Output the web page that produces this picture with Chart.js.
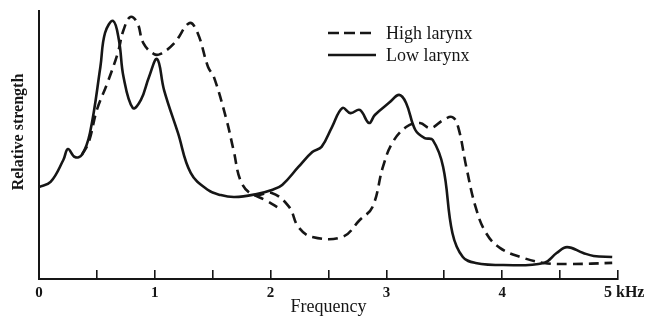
<!DOCTYPE html>
<html>
<head>
<meta charset="utf-8">
<script src="https://cdn.jsdelivr.net/npm/chart.js@4.4.0/dist/chart.umd.min.js"></script>
<style>
  html, body { margin: 0; padding: 0; background: #fff; }
  #wrap { width: 653px; height: 320px; }
</style>
</head>
<body>
<div id="wrap"><canvas id="grafica" width="653" height="320"></canvas></div>
<script>
// frequency in kHz, strength on a 0-100 relative scale
var lowFreq = [0, 0.1, 0.21, 0.25, 0.31, 0.37, 0.44, 0.53, 0.57, 0.64, 0.69, 0.73, 0.81, 0.88, 0.95, 1.02,
  1.08, 1.2, 1.31, 1.46, 1.57, 1.69, 1.88, 2.01, 2.1, 2.24, 2.36, 2.44, 2.53, 2.62, 2.69, 2.77, 2.85,
  2.9, 3.03, 3.11, 3.17, 3.25, 3.33, 3.4, 3.49, 3.57, 3.66, 3.77, 4.01, 4.36, 4.47, 4.56, 4.7, 4.79, 4.95];
var lowStrength = [34.3, 36.2, 44.4, 48.5, 45.5, 46.3, 54.5, 79.1, 91.8, 96.3, 89.2, 75.4, 63.8, 66.8, 75.4, 82.1,
  70.5, 54.5, 39.6, 33.2, 31.3, 30.6, 31.7, 33.2, 35.1, 41.8, 47.4, 49.3, 56.7, 63.8, 61.9, 63.1, 58.2,
  61.2, 66.0, 68.7, 65.7, 55.6, 52.6, 51.9, 41.8, 17.2, 8.2, 6.0, 5.2, 6.0, 9.7, 11.9, 9.7, 8.6, 8.2];

var highFreq = [0.37, 0.43, 0.5, 0.59, 0.68, 0.73, 0.79, 0.85, 0.9, 0.99, 1.05, 1.17, 1.3, 1.37, 1.46, 1.51,
  1.62, 1.68, 1.75, 1.86, 2.01, 2.16, 2.24, 2.36, 2.62, 2.77, 2.88, 2.97, 3.05, 3.17, 3.29, 3.38, 3.49,
  3.57, 3.62, 3.69, 3.77, 3.86, 3.98, 4.16, 4.36, 4.59, 4.95];
var highStrength = [46.3, 51.1, 63.1, 73.1, 84.3, 92.9, 97.8, 95.5, 88.1, 84.0, 84.0, 88.1, 95.5, 91.8, 79.1, 75.4,
  59.3, 48.1, 35.8, 31.3, 32.1, 26.9, 19.4, 15.7, 15.7, 22.0, 26.9, 41.8, 50.7, 56.7, 58.2, 56.3, 59.3,
  60.4, 56.7, 41.8, 26.9, 17.2, 11.6, 8.2, 6.0, 5.6, 6.0];

// short stray dashed piece near 2 kHz
var branchFreq = [1.86, 1.97, 2.07];
var branchStrength = [31.3, 29.1, 26.5];

var tickLabels = ['0', '1', '2', '3', '4', '5'];

function puntos(xs, ys) {
    return xs.map(function(x, i) { return { x: x, y: ys[i] }; });
}

var serif = '"Liberation Serif", "DejaVu Serif", serif';
var ink = '#161616';

var leyenda = {
    id: 'leyenda',
    afterDraw: function(chart) {
        var ctx = chart.ctx;
        var rows = [0, 1];
        ctx.save();
        rows.forEach(function(i) {
            var ds = chart.data.datasets[i];
            var y = 33 + i * 22;
            ctx.strokeStyle = ink;
            ctx.lineWidth = 2.5;
            ctx.setLineDash(ds.borderDash && ds.borderDash.length ? [11, 5] : []);
            ctx.beginPath();
            ctx.moveTo(328, y);
            ctx.lineTo(376, y);
            ctx.stroke();
            ctx.setLineDash([]);
            ctx.fillStyle = ink;
            ctx.font = '18px ' + serif;
            ctx.textBaseline = 'middle';
            ctx.textAlign = 'left';
            ctx.fillText(ds.label, 386, y + 1);
        });
        // y axis title
        ctx.translate(19, 132);
        ctx.rotate(-Math.PI / 2);
        ctx.font = 'bold 16px ' + serif;
        ctx.textAlign = 'center';
        ctx.textBaseline = 'middle';
        ctx.fillText('Relative strength', 0, 0);
        ctx.restore();
        // last tick label with unit
        var xs = chart.scales.x;
        ctx.save();
        ctx.fillStyle = ink;
        ctx.font = 'bold 16px ' + serif;
        ctx.textAlign = 'left';
        ctx.textBaseline = 'middle';
        ctx.fillText('5 kHz', xs.getPixelForValue(5) - 14, 293);
        ctx.restore();
    }
};

const ctx = document.getElementById('grafica').getContext('2d');

new Chart(ctx, {
    type: 'line',
    data: {
        datasets: [{
            label: 'High larynx',
            data: puntos(highFreq, highStrength),
            borderColor: ink,
            borderWidth: 2.6,
            borderDash: [10, 6],
            pointRadius: 0,
            tension: 0.4,
            fill: false
        }, {
            label: 'Low larynx',
            data: puntos(lowFreq, lowStrength),
            borderColor: ink,
            borderWidth: 2.6,
            pointRadius: 0,
            tension: 0.4,
            fill: false
        }, {
            label: '',
            data: puntos(branchFreq, branchStrength),
            borderColor: ink,
            borderWidth: 2.6,
            borderDash: [10, 6],
            pointRadius: 0,
            tension: 0.4,
            fill: false
        }]
    },
    options: {
        responsive: false,
        animation: false,
        layout: { padding: { top: 11, right: 35, left: 0, bottom: 0 } },
        plugins: {
            legend: { display: false },
            tooltip: { enabled: false }
        },
        scales: {
            x: {
                type: 'linear',
                min: 0,
                max: 5,
                afterFit: function(s) { s.height = 41; },
                border: { display: true, color: ink, width: 2 },
                grid: {
                    drawOnChartArea: false,
                    drawTicks: true,
                    tickLength: -9,
                    color: ink,
                    lineWidth: function(c) { return c.tick && c.tick.value === 0 ? 0 : 1.6; }
                },
                ticks: {
                    stepSize: 0.5,
                    padding: 14,
                    maxRotation: 0,
                    autoSkip: false,
                    color: ink,
                    font: { family: serif, size: 15, weight: 'bold' },
                    callback: function(v) {
                        if (v === 5) return ' ';
                        return Number.isInteger(v) ? tickLabels[v] : '';
                    }
                },
                title: {
                    display: true,
                    text: 'Frequency',
                    color: ink,
                    font: { family: serif, size: 18 },
                    padding: { top: 0, bottom: 2 }
                }
            },
            y: {
                min: 0,
                max: 100,
                afterFit: function(s) { s.width = 39; },
                border: { display: true, color: ink, width: 2 },
                grid: { display: false },
                ticks: { display: false }
            }
        }
    },
    plugins: [leyenda]
});
</script>
</body>
</html>
